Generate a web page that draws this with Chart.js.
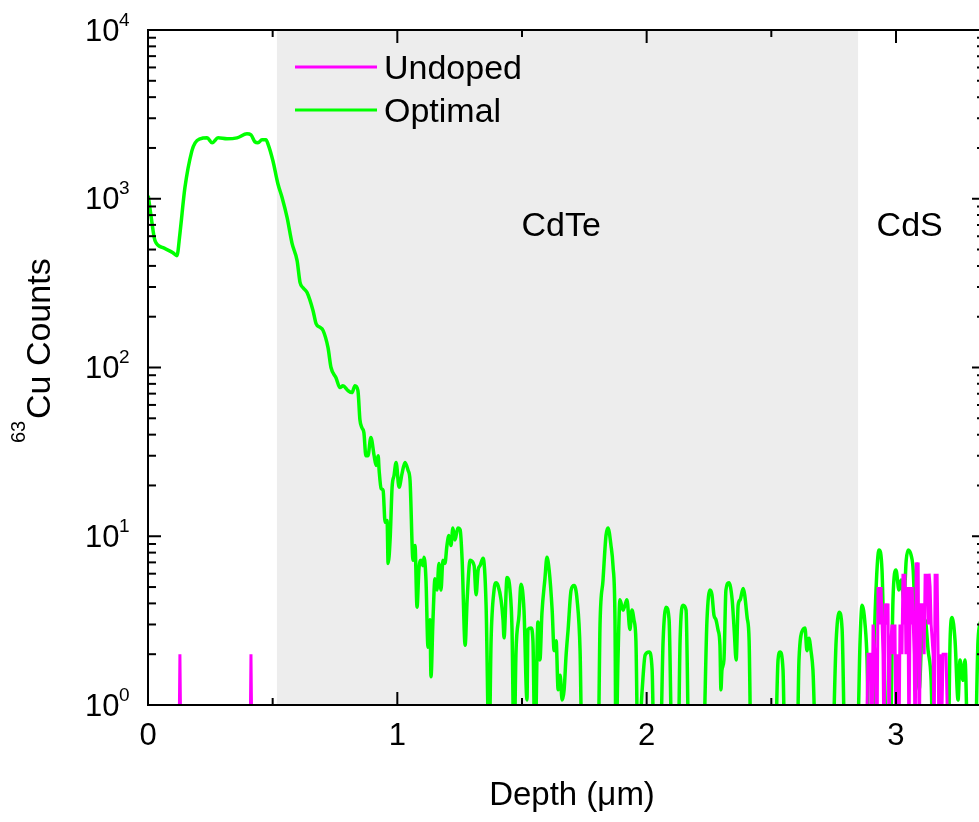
<!DOCTYPE html>
<html>
<head>
<meta charset="utf-8">
<title>63Cu SIMS</title>
<script src="https://cdn.jsdelivr.net/npm/chart.js@4.4.1/dist/chart.umd.min.js"></script>
<style>
  html, body { margin: 0; padding: 0; background: #fff; }
  canvas { display: block; }
</style>
</head>
<body>
<canvas id="grafico-cu" width="979" height="822"></canvas>
<script>
const optimalDepth = [
  0.001, 0.012, 0.028, 0.060, 0.100, 0.116, 0.128, 0.148, 0.176, 0.189,
  0.209, 0.237, 0.257, 0.281, 0.317, 0.357, 0.397, 0.413, 0.429, 0.441,
  0.457, 0.473, 0.481, 0.501, 0.521, 0.538, 0.558, 0.578, 0.598, 0.610,
  0.622, 0.638, 0.662, 0.674, 0.690, 0.702, 0.722, 0.734, 0.754, 0.770,
  0.782, 0.802, 0.818, 0.830, 0.842, 0.850, 0.858, 0.866, 0.874, 0.882,
  0.894, 0.907, 0.915, 0.923, 0.927, 0.935, 0.943, 0.951, 0.959, 0.963,
  0.971, 0.979, 0.987, 0.995, 1.007, 1.019, 1.031, 1.043, 1.051, 1.063,
  1.071, 1.079, 1.087, 1.095, 1.103, 1.107, 1.115, 1.123, 1.131, 1.135,
  1.143, 1.151, 1.159, 1.167, 1.175, 1.183, 1.191, 1.199, 1.207, 1.215,
  1.223, 1.231, 1.243, 1.252, 1.260, 1.272, 1.280, 1.292, 1.308, 1.316,
  1.324, 1.332, 1.344, 1.356, 1.368, 1.376, 1.388, 1.396, 1.404, 1.416,
  1.424, 1.428, 1.440, 1.452, 1.460, 1.468, 1.476, 1.488, 1.496, 1.508,
  1.520, 1.524, 1.536, 1.544, 1.552, 1.564, 1.572, 1.580, 1.592, 1.600,
  1.609, 1.621, 1.629, 1.637, 1.645, 1.653, 1.661, 1.669, 1.677, 1.685,
  1.697, 1.709, 1.721, 1.733, 1.741, 1.805, 1.813, 1.825, 1.837, 1.845,
  1.857, 1.865, 1.873, 1.877, 1.885, 1.893, 1.905, 1.913, 1.921, 1.933,
  1.941, 1.949, 1.957, 1.965, 1.982, 1.994, 2.010, 2.022, 2.030, 2.054,
  2.066, 2.078, 2.090, 2.102, 2.126, 2.134, 2.146, 2.158, 2.170, 2.226,
  2.242, 2.254, 2.262, 2.270, 2.278, 2.286, 2.294, 2.298, 2.302, 2.310,
  2.318, 2.330, 2.343, 2.351, 2.359, 2.367, 2.375, 2.387, 2.403, 2.411,
  2.419, 2.515, 2.527, 2.535, 2.547, 2.555, 2.603, 2.611, 2.627, 2.635,
  2.643, 2.651, 2.659, 2.667, 2.680, 2.744, 2.760, 2.772, 2.784, 2.796,
  2.844, 2.856, 2.864, 2.876, 2.884, 2.892, 2.908, 2.912, 2.920, 2.932,
  2.944, 2.952, 2.964, 2.976, 2.988, 3.000, 3.012, 3.020, 3.032, 3.041,
  3.049, 3.061, 3.069, 3.077, 3.085, 3.093, 3.105, 3.117, 3.129, 3.141,
  3.149, 3.209, 3.217, 3.225, 3.237, 3.249, 3.257, 3.269, 3.277, 3.289,
  3.317, 3.329, 3.341
];
const optimalCounts = [
  1042, 793, 564, 513, 479, 460, 621, 1161, 1923, 2145,
  2265, 2296, 2145, 2296, 2265, 2296, 2426, 2392, 2173, 2145,
  2235, 2235, 2115, 1679, 1227, 1014, 772, 542, 430, 318,
  297, 278, 217, 182, 173, 166, 131, 100, 87, 76,
  78, 73, 71, 78, 73, 49, 44, 41, 30, 30,
  38.5, 30, 26.3, 30, 24.6, 19.2, 18.7, 12.1, 12.4, 6.9,
  9.5, 19.5, 23, 27.4, 19.5, 23.6, 27.4, 24.6, 21.4, 7.2,
  8.8, 3.8, 6.5, 7.2, 6.7, 7.5, 5.5, 2.2, 3.2, 1.47,
  3.2, 5.6, 4.8, 6.9, 4.8, 7.2, 6.9, 8.8, 10.1, 8.8,
  11.2, 9.5, 11.2, 10.9, 7.2, 2.26, 4.2, 7.2, 6.7, 4.5,
  6.3, 6.7, 7.4, 3.9, 0.5, 2.4, 4.8, 5.3, 5.1, 4.2,
  3.2, 2.5, 5.7, 4.8, 2.8, 0.5, 2.06, 3.4, 5.2, 3.65,
  1.07, 2.8, 2.86, 2.4, 0.5, 3.1, 1.85, 3.5, 5.6, 7.5,
  6.3, 3.65, 2.1, 2.4, 1.23, 1.5, 1.07, 1.23, 1.98, 2.8,
  4.8, 5.1, 4.2, 2.1, 0.5, 0.5, 3.0, 5.5, 10.1, 11.2,
  8.8, 6.7, 3.2, 0.5, 1.85, 4.2, 3.65, 3.9, 4.2, 2.8,
  3.65, 3.2, 2.4, 0.5, 1.23, 1.98, 2.06, 1.61, 0.5, 0.5,
  2.4, 3.8, 3.2, 0.5, 0.5, 2.4, 3.9, 3.65, 0.5, 0.5,
  3.2, 4.8, 4.5, 3.4, 3.2, 2.8, 2.26, 1.23, 1.61, 1.85,
  4.8, 5.3, 4.2, 2.8, 1.85, 3.9, 4.2, 4.9, 3.3, 2.4,
  0.5, 0.5, 1.85, 2.06, 1.61, 0.5, 0.5, 1.85, 2.8, 2.86,
  2.1, 2.49, 2.1, 1.61, 0.5, 0.5, 2.4, 3.55, 2.8, 0.5,
  0.5, 2.4, 3.9, 3.0, 1.85, 0.5, 0.5, 1.85, 4.8, 8.3,
  6.3, 2.1, 0.5, 0.5, 4.2, 6.3, 4.8, 5.5, 4.2, 7.2,
  8.3, 7.7, 6.3, 3.2, 1.85, 1.23, 2.8, 3.2, 2.1, 1.4,
  0.5, 0.5, 2.4, 3.3, 2.4, 1.07, 1.85, 1.4, 1.85, 0.5,
  0.5, 2.4, 3.2
];
const undopedDepth = [
  0.000, 0.124, 0.128, 0.132, 0.409, 0.413, 0.417,
  2.880, 2.888, 2.896, 2.904, 2.908, 2.916, 2.924, 2.928, 2.936, 2.940,
  2.948, 2.952, 2.956, 2.964, 2.968, 2.972, 2.976, 2.984, 2.988, 2.996,
  3.000, 3.004, 3.012, 3.016, 3.024, 3.028, 3.032, 3.036, 3.040, 3.048,
  3.052, 3.057, 3.061, 3.065, 3.073, 3.077, 3.081, 3.085, 3.089, 3.093,
  3.097, 3.101, 3.105, 3.109, 3.113, 3.117, 3.121, 3.125, 3.129, 3.133,
  3.137, 3.141, 3.149, 3.153, 3.157, 3.161, 3.165, 3.169, 3.173, 3.177,
  3.181, 3.189, 3.197, 3.201, 3.209, 3.217,
  3.333
];
const undopedCounts = [
  0.5, 0.5, 2, 0.5, 0.5, 2, 0.5,
  0.5, 2, 2, 0.5, 3, 2, 0.5, 5, 3, 5,
  2, 0.5, 4, 3, 4, 0.5, 2, 3, 2, 3,
  0.5, 2, 0.5, 3, 2, 6, 3, 6, 2, 5,
  0.5, 5, 3, 5, 2, 0.5, 7, 3, 7, 0.5,
  2, 4, 3, 4, 2, 6, 4, 6, 3, 6,
  5, 3, 2, 0.5, 6, 3, 6, 2, 0.5, 2,
  0.5, 2, 2, 2, 0.5, 0.5,
  0.5
];

const depthTicks = [0, 1, 2, 3];
const depthLabels = ["0", "1", "2", "3"];
const depthMinorTicks = [0.5, 1.5, 2.5];
const countTicks = [1, 10, 100, 1000, 10000];
const countExponents = ["0", "1", "2", "3", "4"];

const layerNames = ["CdTe", "CdS"];
const layerLabelDepth = [1.657, 3.055];
const layerLabelCount = 685;
const cdteBand = [0.517, 2.848];

const FONTE = '"Liberation Sans", Arial, Helvetica, sans-serif';

function linha(ctx, x0, y0, x1, y1) {
  ctx.beginPath();
  ctx.moveTo(x0, y0);
  ctx.lineTo(x1, y1);
  ctx.stroke();
}

const molduraPlugin = {
  id: "moldura",
  beforeDatasetsDraw(chart) {
    const { ctx, chartArea: a, scales: { x } } = chart;
    const x0 = x.getPixelForValue(cdteBand[0]);
    const x1 = x.getPixelForValue(cdteBand[1]);
    ctx.save();
    ctx.fillStyle = "#ededed";
    ctx.fillRect(x0, a.top, x1 - x0, a.bottom - a.top);
    ctx.restore();
  },
  afterDraw(chart) {
    const { ctx, chartArea: a, scales: { x, y } } = chart;
    const direita = a.right + 6;
    ctx.save();
    ctx.strokeStyle = "#000";
    ctx.lineWidth = 2;
    ctx.lineCap = "butt";

    // eixos
    linha(ctx, a.left, a.top, a.left, a.bottom + 1);
    linha(ctx, a.left - 1, a.bottom, a.right, a.bottom);
    linha(ctx, a.left - 1, a.top, a.right, a.top);

    // ticks x
    depthTicks.forEach(v => {
      const px = x.getPixelForValue(v);
      linha(ctx, px, a.bottom, px, a.bottom - 13);
      linha(ctx, px, a.top, px, a.top + 13);
    });
    depthMinorTicks.forEach(v => {
      const px = x.getPixelForValue(v);
      linha(ctx, px, a.bottom, px, a.bottom - 7);
      linha(ctx, px, a.top, px, a.top + 7);
    });

    // ticks y
    countTicks.forEach((v, i) => {
      const py = y.getPixelForValue(v);
      linha(ctx, a.left, py, a.left + 13, py);
      linha(ctx, direita, py, direita - 13, py);
      if (i < countTicks.length - 1) {
        for (let m = 2; m <= 9; m++) {
          const pm = y.getPixelForValue(v * m);
          linha(ctx, a.left, pm, a.left + 8, pm);
          linha(ctx, direita, pm, direita - 8, pm);
        }
      }
    });

    ctx.fillStyle = "#000";

    // rótulos x
    ctx.font = `31px ${FONTE}`;
    ctx.textAlign = "center";
    ctx.textBaseline = "middle";
    depthTicks.forEach((v, i) => {
      ctx.fillText(depthLabels[i], x.getPixelForValue(v), a.bottom + 31);
    });

    // rótulos y (10^n)
    countTicks.forEach((v, i) => {
      const py = y.getPixelForValue(v);
      ctx.font = `31px ${FONTE}`;
      ctx.textAlign = "right";
      ctx.textBaseline = "middle";
      ctx.fillText("10", a.left - 28.5, py + 2);
      ctx.font = `19px ${FONTE}`;
      ctx.textAlign = "left";
      ctx.textBaseline = "alphabetic";
      ctx.fillText(countExponents[i], a.left - 29, py - 4.5);
    });

    // título x
    ctx.font = `33px ${FONTE}`;
    ctx.textAlign = "center";
    ctx.textBaseline = "alphabetic";
    ctx.fillText("Depth (\u03BCm)", 572, 805);

    // título y
    ctx.save();
    ctx.translate(50, 443);
    ctx.rotate(-Math.PI / 2);
    ctx.textAlign = "left";
    ctx.font = `20px ${FONTE}`;
    ctx.fillText("63", 0, -25);
    ctx.font = `34px ${FONTE}`;
    ctx.fillText("Cu Counts", 24, 0);
    ctx.restore();

    // camadas
    ctx.font = `34px ${FONTE}`;
    ctx.textAlign = "center";
    ctx.textBaseline = "middle";
    layerNames.forEach((nome, i) => {
      ctx.fillText(nome, x.getPixelForValue(layerLabelDepth[i]), y.getPixelForValue(layerLabelCount));
    });

    // legenda
    ctx.textAlign = "left";
    ctx.textBaseline = "alphabetic";
    chart.data.datasets.forEach((ds, i) => {
      const ly = a.top + 37 + i * 43;
      ctx.strokeStyle = ds.borderColor;
      ctx.lineWidth = 3;
      linha(ctx, a.left + 147, ly, a.left + 229, ly);
      ctx.fillStyle = "#000";
      ctx.font = `34px ${FONTE}`;
      ctx.fillText(ds.label, a.left + 236, ly + 12);
    });

    ctx.restore();
  }
};

const ctx = document.getElementById("grafico-cu").getContext("2d");
const chartCu = new Chart(ctx, {
  type: "line",
  data: {
    datasets: [
      {
        label: "Undoped",
        data: undopedDepth.map((d, i) => ({ x: d, y: undopedCounts[i] })),
        borderColor: "#ff00ff",
        borderWidth: 3,
        pointRadius: 0,
        tension: 0
      },
      {
        label: "Optimal",
        data: optimalDepth.map((d, i) => ({ x: d, y: optimalCounts[i] })),
        borderColor: "#00ff00",
        borderWidth: 3.5,
        pointRadius: 0,
        cubicInterpolationMode: "monotone"
      }
    ]
  },
  options: {
    responsive: false,
    animation: false,
    devicePixelRatio: 1,
    layout: { padding: { top: 30, right: 0, bottom: 0, left: 0 } },
    plugins: {
      legend: { display: false },
      tooltip: { enabled: false }
    },
    scales: {
      x: {
        type: "linear",
        min: 0,
        max: 3.333,
        ticks: { display: false },
        grid: { display: false },
        border: { display: false },
        afterFit: s => { s.height = 117; }
      },
      y: {
        type: "logarithmic",
        min: 1,
        max: 10000,
        ticks: { display: false },
        grid: { display: false },
        border: { display: false },
        afterFit: s => { s.width = 148; }
      }
    }
  },
  plugins: [molduraPlugin]
});
</script>
</body>
</html>
